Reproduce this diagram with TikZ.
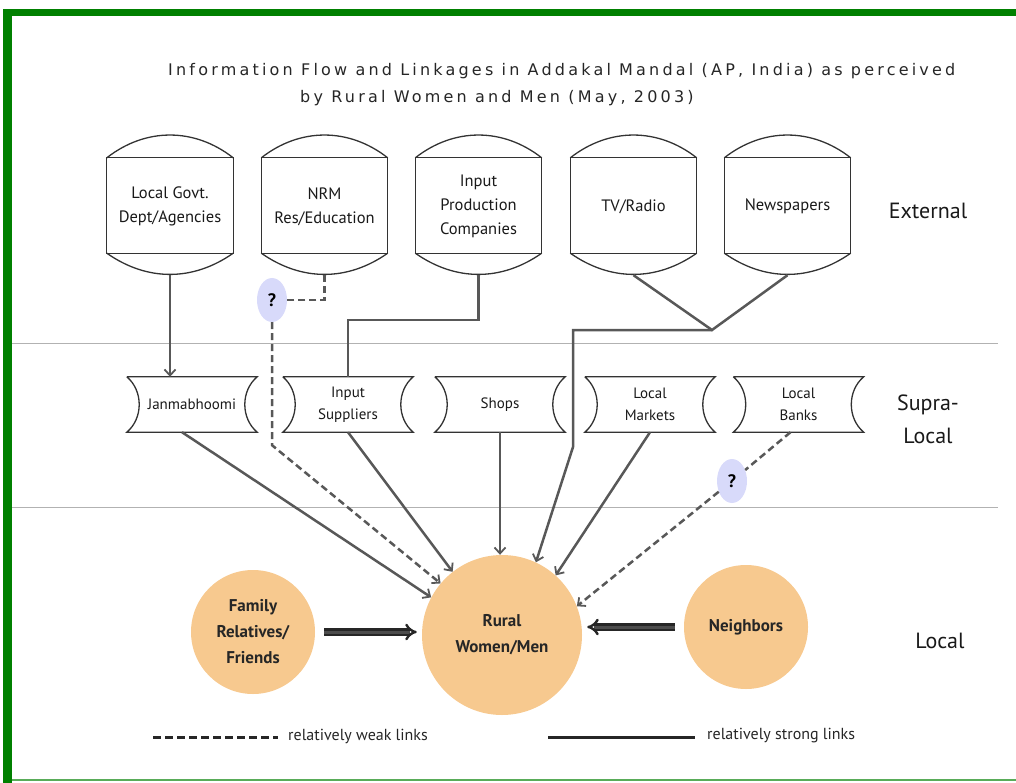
\documentclass[tikz,border=0pt]{standalone}
\usepackage{fontspec}
\setmainfont{PT Sans}
\newfontfamily\titlefont[LetterSpace=20]{DejaVu Sans}
\usetikzlibrary{shapes.geometric,arrows.meta}

\definecolor{framegreen}{RGB}{0,128,0}
\definecolor{peach}{RGB}{247,201,143}
\definecolor{lavender}{RGB}{216,218,250}
\definecolor{linkgray}{RGB}{88,88,88}

\tikzset{
  drum/.style = {minimum width=126pt, minimum height=137pt, inner sep=0pt, align=center,
    text=black!90, font=\fontsize{16.5}{24}\selectfont},
  bowtie/.style = {minimum width=130pt, minimum height=55pt, inner sep=0pt, align=center,
    text=black!90, font=\fontsize{15}{22}\selectfont},
  boxline/.style = {draw=black!80, line width=1.3pt},
  blob/.style = {circle, fill=peach, inner sep=0pt, align=center, text=black!85,
    font=\bfseries\fontsize{17}{26}\selectfont},
  query/.style = {ellipse, fill=lavender, minimum width=30pt, minimum height=44pt, inner sep=0pt,
    font=\bfseries\fontsize{18}{18}\selectfont},
  link/.style = {draw=linkgray, line width=2.5pt},
  weak/.style = {link, dash pattern=on 7pt off 4pt},
  strong/.style = {draw=black!85, double=black!70, double distance=3pt, line width=2.4pt,
    -{Implies}, shorten <=9pt, shorten >=5pt},
  layer/.style = {align=center, text=black!90, font=\fontsize{22}{33}\selectfont},
  legendtext/.style = {anchor=west, inner sep=0pt, text=black!85, font=\fontsize{16}{16}\selectfont},
  heading/.style = {anchor=west, inner sep=0pt, text=black!85, font=\titlefont\fontsize{16}{16}\selectfont}
}

\begin{document}
\begin{tikzpicture}[x=1pt, y=-1pt, >={Straight Barb[length=6pt,width=11pt,line width=1.8pt]}]
\useasboundingbox (0,0) rectangle (1016,783);
% frame
\fill[framegreen] (3,9) rectangle (1016,16);
\fill[framegreen] (3,9) rectangle (12,783);
\draw[framegreen!65, line width=2pt] (12,780) -- (1016,780);
% layer separators
\draw[gray!60, line width=1pt] (12,343) -- (998,343);
\draw[gray!60, line width=1pt] (12,507) -- (998,507);

\node[heading] (title1) at (168,71)
  {Information Flow and Linkages in Addakal Mandal (AP, India) as perceived};
\node[heading] (title2) at (300,98)
  {by Rural Women and Men (May, 2003)};

% external sources
\node[drum] (govt) at (170,206.5) {Local Govt.\\Dept/Agencies};
\node[drum] (nrm) at (324.5,206.5) {NRM\\Res/Education};
\node[drum] (inputco) at (478.5,206.5) {Input\\Production\\Companies};
\node[drum] (tv) at (633.5,206.5) {TV/Radio};
\node[drum] (news) at (787.5,206.5) {Newspapers};
\foreach \n in {govt,nrm,inputco,tv,news}{
  \draw[boxline] ([yshift=-20pt]\n.north west) coordinate (tl) -- ([yshift=-20pt]\n.north east) coordinate (tr)
    -- ([yshift=22pt]\n.south east) coordinate (br) -- ([yshift=22pt]\n.south west) coordinate (bl) -- cycle;
  \draw[boxline] (tl) to[bend left=38] (tr) (bl) to[bend right=35] (br);
}

% supra-local
\node[bowtie] (janma) at (192,404.5) {Janmabhoomi};
\node[bowtie] (supp) at (348,404.5) {Input\\Suppliers};
\node[bowtie] (shops) at (500,404.5) {Shops};
\node[bowtie] (markets) at (650,404.5) {Local\\Markets};
\node[bowtie] (banks) at (798.5,404.5) {Local\\Banks};
\foreach \n in {janma,supp,shops,markets,banks}
  \draw[boxline] (\n.north west) -- (\n.north east) to[bend right=50] (\n.south east)
    -- (\n.south west) to[bend right=50] (\n.north west);

% local
\node[blob, minimum size=160pt] (rural) at (502,635) {Rural\\Women/Men};
\node[blob, minimum size=124pt] (family) at (253,632) {Family\\Relatives/\\Friends};
\node[blob, minimum size=124pt] (neigh) at (746,627) {Neighbors};

\node[query] (q1) at (272,300) {?};
\node[query] (q2) at (732,481) {?};

\node[layer] (extlabel) at (928,211) {External};
\node[layer] (supralabel) at (928,419) {Supra-\\Local};
\node[layer] (locallabel) at (940,641) {Local};

% links
\draw[link,->] (govt.south) -- (govt.south |- janma.north);
\draw[weak] (nrm.south) |- (q1.east);
\draw[weak,->] (q1.south) -- ++(0,123) -- (rural.140);
\draw[link] (inputco.south) -- ++(0,45) -| (supp.north);
\coordinate (join) at (712,330);
\coordinate (drop) at (573,447);
\draw[link] (tv.south) -- (join) -- (news.south);
\draw[link,->] (join) -| (drop) -- (rural.65);
\draw[link,->] ([xshift=-10pt]janma.south) -- (rural.152);
\draw[link,->] (supp.south) -- (rural.128);
\draw[link,->] (shops.south) -- (shops.south |- rural.north);
\draw[link,->] (markets.south) -- (rural.48);
\draw[weak] ([xshift=-8pt]banks.south) -- (q2);
\draw[weak,->] (q2) -- (rural.21);
\draw[strong] (family.east) -- (family.east -| rural.west);
\draw[strong] (neigh.west) -- (neigh.west -| rural.east);

% legend
\node[legendtext] (weaktext) at (288,736) {relatively weak links};
\node[legendtext] (strongtext) at (707,736) {relatively strong links};
\coordinate (weakstart) at (153,737);
\coordinate (strongstart) at (548,737);
\draw[black!85, line width=3pt, dash pattern=on 8pt off 4pt] (weakstart) -- ([xshift=-10pt]weakstart -| weaktext.west);
\draw[black!85, line width=3pt] (strongstart) -- ([xshift=-12pt]strongstart -| strongtext.west);
\end{tikzpicture}
\end{document}
